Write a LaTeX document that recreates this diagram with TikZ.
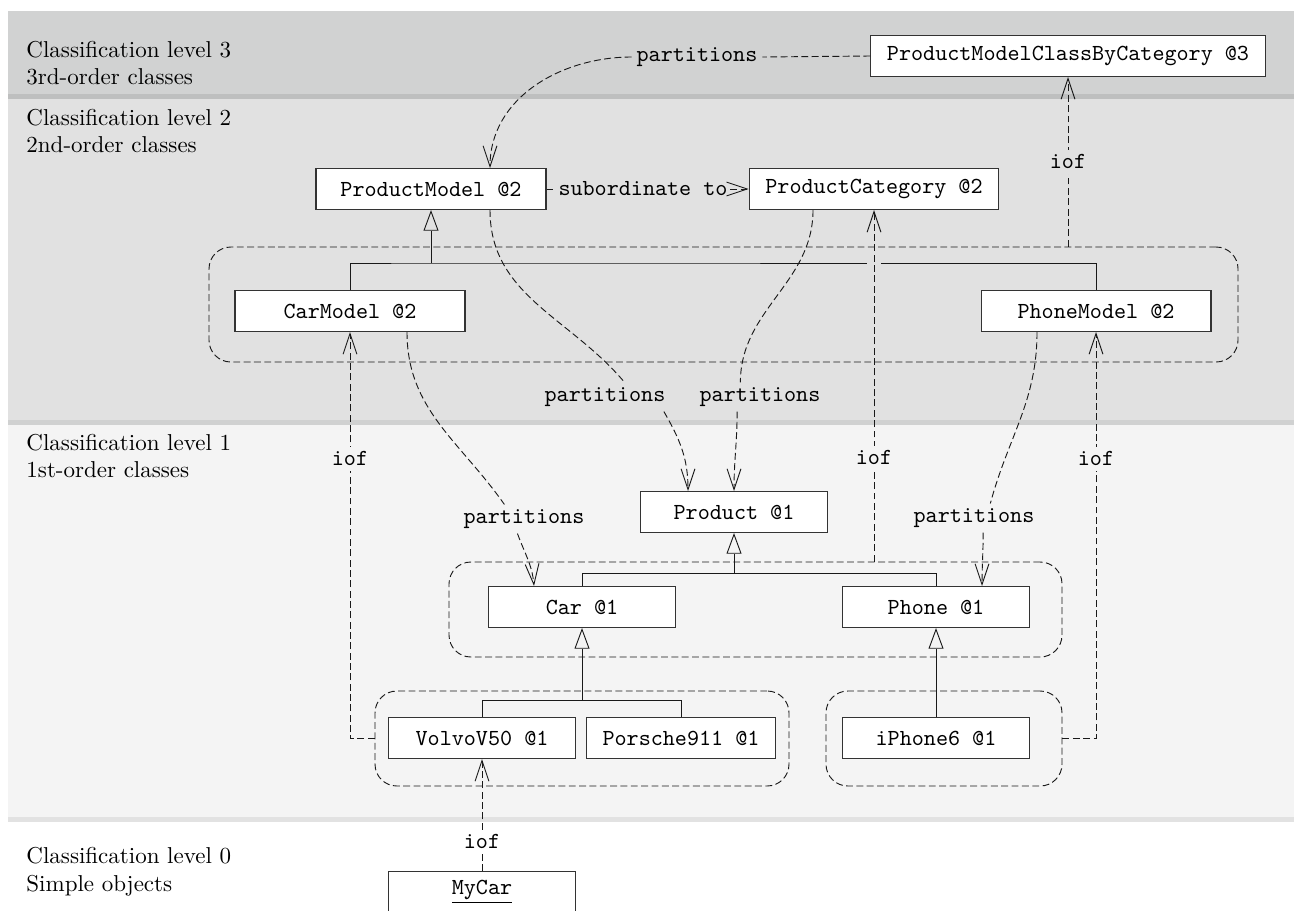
\documentclass[tikz,border=0pt]{standalone}
\usetikzlibrary{arrows.meta,calc,fit}
\definecolor{lvlthree}{HTML}{D1D2D2}
\definecolor{lvlthreeedge}{HTML}{BEBFBF}
\definecolor{lvltwo}{HTML}{E1E1E1}
\definecolor{lvltwoedge}{HTML}{D0D1D1}
\definecolor{lvlone}{HTML}{F4F4F4}
\definecolor{lvloneedge}{HTML}{E2E2E2}
\begin{document}
\begin{tikzpicture}[x=0.435pt,y=-0.435pt,
  cls/.style={draw=black!80,fill=white,font=\ttfamily,minimum height=17.8pt,inner xsep=7pt,line width=0.5pt},
  clsone/.style={cls,minimum width=81.3pt},
  clstwo/.style={cls,minimum width=100pt},
  grp/.style={draw=black!90,dash pattern=on 3pt off 1.5pt,rounded corners=9.5pt,inner sep=0pt},
  dep/.style={draw=black!90,dash pattern=on 3pt off 1.5pt},
  deparrow/.style={dep,-{Straight Barb[length=9pt,width=6pt]}},
  gen/.style={draw=black!90},
  genarrow/.style={gen,-{Triangle[open,length=9pt,width=6.5pt]}},
  lbl/.style={font=\ttfamily,inner sep=2pt},
  lvl/.style={anchor=west,align=left,inner sep=0pt}]
\useasboundingbox (0,0) rectangle (1294,910);
% level bands
\fill[lvlthree] (8,11) rectangle (1294,94);
\fill[lvlthreeedge] (8,94) rectangle (1294,99);
\fill[lvltwo] (8,99) rectangle (1294,420);
\fill[lvltwoedge] (8,420) rectangle (1294,425);
\fill[lvlone] (8,425) rectangle (1294,817);
\fill[lvloneedge] (8,817) rectangle (1294,822);
\node[lvl] (lvThree) at (26,63) {Classification level 3\\3rd-order classes};
\node[lvl] (lvTwo) at (26,131) {Classification level 2\\2nd-order classes};
\node[lvl] (lvOne) at (26,456) {Classification level 1\\1st-order classes};
\node[lvl] (lvZero) at (26,872) {Classification level 0\\Simple objects};
% classes
\node[cls] (pmcbc) at (1068,56) {ProductModelClassByCategory @3};
\node[clstwo] (pm) at (431,189) {ProductModel @2};
\node[cls] (pc) at (874,189) {ProductCategory @2};
\node[clstwo] (carm) at (350,311) {CarModel @2};
\node[clstwo] (phonem) at (1096,311) {PhoneModel @2};
\node[clsone] (product) at (734,512) {Product @1};
\node[clsone] (car) at (582,607) {Car @1};
\node[clsone] (phone) at (936,607) {Phone @1};
\node[clsone] (volvo) at (482,738) {VolvoV50 @1};
\node[clsone] (porsche) at (681,738) {Porsche911 @1};
\node[clsone] (iphone) at (936,738) {iPhone6 @1};
\node[clsone] (mycar) at (482,892) {\underline{MyCar}};
% groups
\node[grp,fit={(209,247) (1238,362)}] (grpTwo) {};
\node[grp,fit={(449,562) (1062,657)}] (grpOne) {};
\node[grp,fit={(375,691) (789,786)}] (grpCars) {};
\node[grp,fit={(826,691) (1062,786)}] (grpPhones) {};
% generalizations
\coordinate (genTwo) at (431,263);
\draw[gen] (carm.north) |- (genTwo) -| (phonem.north);
\draw[genarrow] (genTwo) -- (pm.south);
\coordinate (genOne) at (734,573);
\draw[gen] (car.north) |- (genOne) -| (phone.north);
\draw[genarrow] (genOne) -- (product.south);
\coordinate (genCar) at (582,700);
\draw[gen] (volvo.north) |- (genCar) -| (porsche.north);
\draw[genarrow] (genCar) -- (car.south);
\draw[genarrow] (iphone.north) -- (phone.south);
% instance-of
\fill[lvltwo] ($(pc.south |- genTwo)+(-7,-3)$) rectangle +(14,6);
\draw[deparrow] (grpTwo.north -| pmcbc.south) -- node[lbl,fill=lvltwo] {iof} (pmcbc.south);
\draw[deparrow] (grpOne.north -| pc.south) -- node[lbl,fill=lvlone,pos=0.295] {iof} (pc.south);
\draw[deparrow] (grpCars.west) -| node[lbl,fill=lvlone,pos=0.844] {iof} (carm.south);
\draw[deparrow] (grpPhones.east) -| node[lbl,fill=lvlone,pos=0.844] {iof} (phonem.south);
\draw[deparrow] (mycar.north) -- node[lbl,fill=white,pos=0.26] {iof} (volvo.south);
% partitions and subordination
\node[lbl] (partTop) at (697,57) {partitions};
\node[lbl] (partPm) at (605,397) {partitions};
\node[lbl] (partPc) at (760,397) {partitions};
\node[lbl] (partCar) at (524,519) {partitions};
\node[lbl] (partPhone) at (974,518) {partitions};
\node[lbl,inner xsep=1pt] (subTo) at (643,189) {subordinate to};
\draw[dep] (pm.east) -- (subTo.west);
\draw[deparrow] (subTo.east) -- (pc.west);
\draw[dep] (pmcbc.west) -- (partTop.east);
\draw[deparrow] (partTop.west) to[out=180,in=90] ($(pm.north)+(59,0)$);
\draw[dep] ($(pm.south)+(59,0)$) to[out=-90,in=130] ($(partPm.north)!0.3!(partPm.north east)$);
\draw[deparrow] ($(partPm.south)!0.9!(partPm.south east)$) to[out=-60,in=90] ($(product.north)+(-46,0)$);
\draw[dep] ($(pc.south)+(-61,0)$) to[out=-90,in=90] ($(partPc.north)!0.3!(partPc.north west)$);
\draw[deparrow] ($(partPc.south)!0.35!(partPc.south west)$) to[out=-90,in=90] (product.north);
\draw[dep] ($(carm.south)+(57,0)$) to[out=-90,in=125] ($(partCar.north)!0.3!(partCar.north west)$);
\draw[deparrow] ($(partCar.south)!0.1!(partCar.south west)$) to[out=-70,in=95] ($(car.north)+(-48,0)$);
\draw[dep] ($(phonem.south)+(-59,0)$) to[out=-90,in=75] ($(partPhone.north)!0.25!(partPhone.north east)$);
\draw[deparrow] ($(partPhone.south)!0.14!(partPhone.south east)$) to[out=-90,in=90] ($(phone.north)+(46,0)$);
\end{tikzpicture}
\end{document}
